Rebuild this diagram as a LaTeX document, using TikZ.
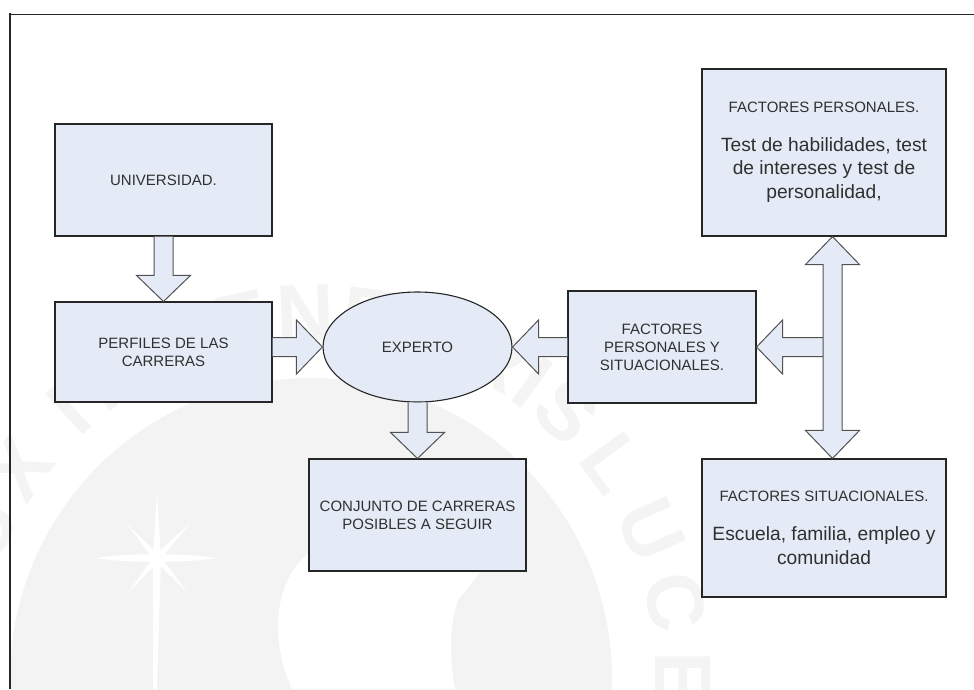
\documentclass[tikz,border=0pt]{standalone}
\usepackage{fontspec}
\setmainfont{Liberation Sans}
\usetikzlibrary{calc,shapes.geometric}
\definecolor{boxfill}{HTML}{E4EBF6}
\definecolor{wmgrey}{HTML}{F3F3F3}
\definecolor{wmtext}{HTML}{F4F4F4}
\definecolor{inkdark}{HTML}{262626}
\definecolor{txt}{HTML}{303030}
\newcommand{\hdsize}{\fontsize{15}{18}\selectfont}
\newcommand{\bdsize}{\fontsize{19.2}{23.5}\selectfont}
\tikzset{
  panel/.style={draw=inkdark,line width=1.1pt,fill=boxfill,text=txt,align=center,inner sep=0pt},
  headfont/.style={font=\hdsize},
  blockarrow/.style={draw=black!68,line width=1pt,fill=boxfill,line join=miter,miter limit=6},
  wmletter/.style={text=wmtext,inner sep=0pt,font=\fontsize{80}{80}\selectfont\bfseries},
  framerule/.style={draw=inkdark,line width=1.1pt}
}
% one-headed block arrow, open at its start
\newcommand{\blockarrowdraw}[2]{%
  \draw[blockarrow]
    ($(#1)!9.5pt!90:(#2)$) --
    ($(#2)!26pt!(#1)!9.5pt!90:(#2)$) --
    ($(#2)!26pt!(#1)!27pt!90:(#2)$) --
    (#2) --
    ($(#2)!26pt!(#1)!27pt!-90:(#2)$) --
    ($(#2)!26pt!(#1)!9.5pt!-90:(#2)$) --
    ($(#1)!9.5pt!-90:(#2)$);
}
\begin{document}
\begin{tikzpicture}[x=1pt,y=-1pt]
\useasboundingbox (0,0) rectangle (974,689);
\begin{scope}
\clip (0,0) rectangle (974,689);
% watermark seal
\foreach \ch/\ang/\nm in {U/-66/d,X/-55/e,I/-43/f,N/-34/g,T/-23/h,E/-12/i,N/-2/j,E/8/k,B/19/l,R/29/m,I/36/n,S/43/o,L/54/p,U/66/q,C/78/r,E/90/s}
  \node[wmletter,rotate=-\ang] (wm\nm) at ({318+365*sin(\ang)},{678-365*cos(\ang)}) {\ch};
\fill[wmgrey] (311,679) circle (301);
\fill[white] (335,540) .. controls (295,550) and (278,590) .. (278,625)
   .. controls (278,650) and (284,672) .. (292,689) -- (455,689)
   .. controls (450,660) and (448,630) .. (458,600) -- (490,560) -- cycle;
\fill[white] (157,492) -- (161,558) -- (157,689) -- (153,689) -- (153,558) -- cycle;
\fill[white] (96,558) .. controls (120,553) and (190,553) .. (217,558)
   .. controls (190,563) and (120,563) .. (96,558) -- cycle;
\fill[white] (127,524) -- (160,556) -- (154,560) -- cycle;
\fill[white] (190,523) -- (160,560) -- (154,556) -- cycle;
\fill[white] (128,593) -- (154,556) -- (160,560) -- cycle;
\fill[white] (187,592) -- (160,556) -- (154,560) -- cycle;
\end{scope}
% frame
\draw[framerule] (8.5,14.3) -- (974,14.3);
\draw[framerule] (10,13) -- (10,689);
% boxes
\node[panel,headfont,minimum width=217pt,minimum height=112pt] (univ) at (163.5,180) {UNIVERSIDAD.};
\node[panel,headfont,minimum width=217pt,minimum height=100pt] (perfiles) at (163.5,352) {PERFILES DE LAS\\CARRERAS};
\node[panel,headfont,ellipse,minimum width=189pt,minimum height=110pt] (experto) at (417.5,347) {EXPERTO};
\node[panel,headfont,minimum width=217pt,minimum height=112pt] (conj) at (417.5,515) {CONJUNTO DE CARRERAS\\POSIBLES A SEGUIR};
\node[panel,headfont,minimum width=188pt,minimum height=112pt] (mixtos) at (662,347) {FACTORES\\PERSONALES Y\\SITUACIONALES.};
\node[panel,minimum width=244pt,minimum height=167pt] (pers) at (824,152.5)
  {\hdsize FACTORES PERSONALES.\\[24pt]
   \bdsize Test de habilidades, test\\[5.5pt]\bdsize de intereses y test de\\[5.5pt]\bdsize personalidad,};
\node[panel,minimum width=244pt,minimum height=138pt] (situ) at (824,528)
  {\hdsize FACTORES SITUACIONALES.\\[24pt]
   \bdsize Escuela, familia, empleo y\\[5.5pt]\bdsize comunidad};
% connectors
\blockarrowdraw{univ.south}{perfiles.north}
\coordinate (pfstart) at (perfiles.east |- experto.west);
\blockarrowdraw{pfstart}{experto.west}
\blockarrowdraw{experto.south}{conj.north}
\blockarrowdraw{mixtos.west}{experto.east}
\coordinate (dtop) at ($(pers.south)+(8.5,0)$);
\coordinate (dbot) at ($(situ.north)+(8.5,0)$);
\coordinate (junction) at (dtop |- mixtos.east);
\coordinate (jleft) at ($(junction)+(-9.5,0)$);
\blockarrowdraw{jleft}{mixtos.east}
\draw[blockarrow]
  (dtop) --
  ($(dtop)!28pt!(dbot)!27pt!90:(dbot)$) --
  ($(dtop)!28pt!(dbot)!9.5pt!90:(dbot)$) --
  ($(dbot)!28pt!(dtop)!9.5pt!-90:(dtop)$) --
  ($(dbot)!28pt!(dtop)!27pt!-90:(dtop)$) --
  (dbot) --
  ($(dbot)!28pt!(dtop)!27pt!90:(dtop)$) --
  ($(dbot)!28pt!(dtop)!9.5pt!90:(dtop)$) --
  ($(dtop)!28pt!(dbot)!9.5pt!-90:(dbot)$) --
  ($(dtop)!28pt!(dbot)!27pt!-90:(dbot)$) -- cycle;
\end{tikzpicture}
\end{document}
